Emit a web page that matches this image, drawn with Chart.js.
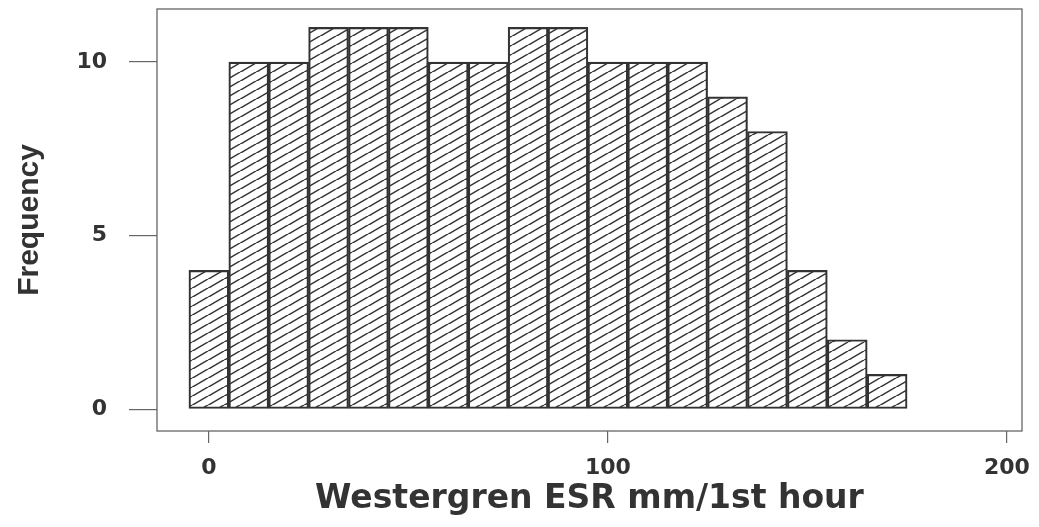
<!DOCTYPE html>
<html>
<head>
<meta charset="utf-8">
<script src="https://cdn.jsdelivr.net/npm/chart.js@4"></script>
<style>
  html, body { margin: 0; padding: 0; background: #fff; }
  #wrap { width: 1039px; height: 527px; }
</style>
</head>
<body>
<div id="wrap"><canvas id="myChart" width="1039" height="527"></canvas></div>
<script>
// histogram bins (centre of each 10-unit bin) and counts
const binCenters = [0, 10, 20, 30, 40, 50, 60, 70, 80, 90, 100, 110, 120, 130, 140, 150, 160, 170];
const counts = [4, 10, 10, 11, 11, 11, 10, 10, 11, 11, 10, 10, 10, 9, 8, 4, 2, 1];
const xTicks = [0, 100, 200];
const yTicks = [0, 5, 10];

const ink = "#333";
const axisGrey = "#666";
const wideFont = "DejaVu Sans, Verdana, sans-serif";

// diagonal hatch fill "////"
function makeHatch() {
    const w = 16, h = 9.3;
    const c = document.createElement("canvas");
    c.width = w; c.height = h;
    const g = c.getContext("2d");
    g.strokeStyle = ink;
    g.lineWidth = 1.5;
    for (const dx of [-w, 0, w]) {
        g.beginPath();
        g.moveTo(dx, h);
        g.lineTo(dx + w, 0);
        g.stroke();
    }
    return g.createPattern(c, "repeat");
}

const boxPlugin = {
    id: "box",
    afterDraw(chart) {
        const a = chart.chartArea;
        const g = chart.ctx;
        g.save();
        g.strokeStyle = axisGrey;
        g.lineWidth = 1.3;
        g.strokeRect(a.left, a.top, a.right - a.left, a.bottom - a.top);
        g.restore();
    }
};

const ctx = document.getElementById("myChart").getContext("2d");

const myChart = new Chart(ctx, {
    type: "bar",
    data: {
        datasets: [{
            label: "Frequency",
            data: binCenters.map((x, i) => ({ x: x, y: counts[i] })),
            backgroundColor: makeHatch(),
            borderColor: ink,
            borderWidth: 1.5,
            borderSkipped: false,
            barPercentage: 1,
            categoryPercentage: 1
        }]
    },
    options: {
        responsive: false,
        animation: false,
        layout: { padding: { top: 9, right: 17, left: 0, bottom: 0 } },
        plugins: {
            legend: { display: false },
            tooltip: { enabled: false }
        },
        scales: {
            x: {
                type: "linear",
                offset: false,
                min: -13,
                max: 203.8,
                afterBuildTicks: s => { s.ticks = xTicks.map(v => ({ value: v })); },
                afterFit: s => { s.height = 96; s.paddingLeft = 0; s.paddingRight = 0; },
                border: { display: false },
                grid: {
                    offset: false,
                    drawOnChartArea: false,
                    color: axisGrey,
                    lineWidth: 1.2,
                    tickLength: 12
                },
                ticks: {
                    color: ink,
                    padding: 12,
                    maxRotation: 0,
                    font: { family: wideFont, size: 22, weight: "bold" }
                },
                title: {
                    display: true,
                    text: "Westergren ESR mm/1st hour",
                    color: ink,
                    padding: { top: 0, bottom: 8 },
                    font: { family: wideFont, size: 33, weight: "bold" }
                }
            },
            y: {
                min: -0.63,
                max: 11.53,
                afterBuildTicks: s => { s.ticks = yTicks.map(v => ({ value: v })); },
                afterFit: s => { s.width = 157; s.paddingTop = 0; s.paddingBottom = 0; },
                border: { display: false },
                grid: {
                    drawOnChartArea: false,
                    color: axisGrey,
                    lineWidth: 1.2,
                    tickLength: 28
                },
                ticks: {
                    color: ink,
                    padding: 22,
                    font: { family: wideFont, size: 22, weight: "bold" }
                },
                title: {
                    display: true,
                    text: "Frequency",
                    color: ink,
                    padding: { top: 12, bottom: 0 },
                    font: { family: "Liberation Sans, Arial, sans-serif", size: 30, weight: "bold" }
                }
            }
        }
    },
    plugins: [boxPlugin]
});
</script>
</body>
</html>
